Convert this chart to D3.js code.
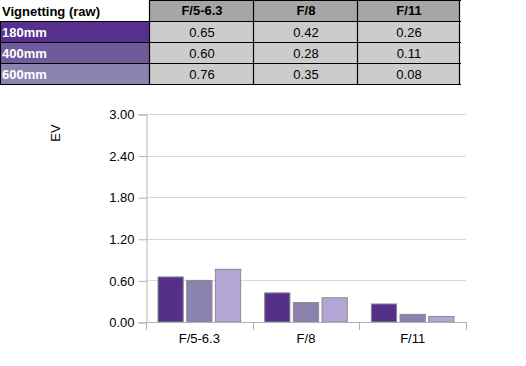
<!DOCTYPE html>
<html lang="en">
<head>
<meta charset="utf-8">
<title>Vignetting</title>
<script src="https://d3js.org/d3.v7.min.js"></script>
<style>
  body { margin: 0; background: #fff; }
  text { font-family: "Liberation Sans", Arial, sans-serif; }
</style>
</head>
<body>
<script>
// data
var apertures = ["F/5-6.3", "F/8", "F/11"];
var lenses = ["180mm", "400mm", "600mm"];
var v180 = [0.65, 0.42, 0.26];
var v400 = [0.60, 0.28, 0.11];
var v600 = [0.76, 0.35, 0.08];
var yTicks = [0, 0.6, 1.2, 1.8, 2.4, 3.0];
var tableTitle = "Vignetting (raw)";

var series = [v180, v400, v600];
var rowColors = ["#572f8c", "#6f5b9c", "#8d83b1"];
var barColors = ["#553089", "#8c82ae", "#b3a6d4"];

var w = 526, h = 366;
var svg = d3.select("body").append("svg")
  .attr("width", w)
  .attr("height", h);

// ---- table ----
var colX = [0, 150, 254, 358, 460];
var rowY = [0, 21, 42, 63, 84];
var tbl = svg.append("g");

// header
tbl.append("text")
  .attr("x", 2).attr("y", 16)
  .attr("font-size", 13).attr("font-weight", "bold")
  .attr("fill", "#000")
  .text(tableTitle);

apertures.forEach(function (a, j) {
  tbl.append("rect")
    .attr("x", colX[j + 1]).attr("y", rowY[0])
    .attr("width", colX[j + 2] - colX[j + 1]).attr("height", rowY[1] - rowY[0])
    .attr("fill", "#a6a6a6");
  tbl.append("text")
    .attr("x", (colX[j + 1] + colX[j + 2]) / 2).attr("y", 15)
    .attr("text-anchor", "middle")
    .attr("font-size", 13).attr("font-weight", "bold")
    .text(a);
});

lenses.forEach(function (l, i) {
  tbl.append("rect")
    .attr("x", colX[0]).attr("y", rowY[i + 1])
    .attr("width", colX[1] - colX[0]).attr("height", rowY[i + 2] - rowY[i + 1])
    .attr("fill", rowColors[i]);
  tbl.append("text")
    .attr("x", 2).attr("y", rowY[i + 1] + 16)
    .attr("font-size", 13).attr("font-weight", "bold")
    .attr("fill", "#fff")
    .text(l);
  apertures.forEach(function (a, j) {
    tbl.append("rect")
      .attr("x", colX[j + 1]).attr("y", rowY[i + 1])
      .attr("width", colX[j + 2] - colX[j + 1]).attr("height", rowY[i + 2] - rowY[i + 1])
      .attr("fill", "#cccccc");
    tbl.append("text")
      .attr("x", (colX[j + 1] + colX[j + 2]) / 2).attr("y", rowY[i + 1] + 16)
      .attr("text-anchor", "middle")
      .attr("font-size", 13)
      .text(series[i][j].toFixed(2));
  });
});

// grid lines of the table
rowY.slice(1).forEach(function (y) {
  tbl.append("line")
    .attr("x1", 0).attr("x2", colX[4] + 1)
    .attr("y1", y + 0.5).attr("y2", y + 0.5)
    .attr("stroke", "#000").attr("stroke-width", 1.2);
});
tbl.append("line")
  .attr("x1", colX[1]).attr("x2", colX[4] + 1)
  .attr("y1", 0.5).attr("y2", 0.5)
  .attr("stroke", "#000");
colX.slice(1).forEach(function (x) {
  tbl.append("line")
    .attr("x1", x - 0.5).attr("x2", x - 0.5)
    .attr("y1", 0).attr("y2", rowY[4] + 1)
    .attr("stroke", "#000").attr("stroke-width", 1.2);
});
tbl.append("line")
  .attr("x1", 0.5).attr("x2", 0.5)
  .attr("y1", rowY[1]).attr("y2", rowY[4] + 1)
  .attr("stroke", "#000");

// ---- chart ----
var plotLeft = 146, plotRight = 466, plotTop = 114, plotBottom = 322;

var x0 = d3.scaleBand()
  .domain(apertures)
  .range([plotLeft, plotRight]);

var x1 = d3.scaleBand()
  .domain(lenses)
  .range([12, x0.bandwidth() - 12])
  .paddingInner(0.12);

var yScale = d3.scaleLinear()
  .domain([0, 3])
  .range([plotBottom, plotTop]);

// gridlines
svg.append("g")
  .selectAll("line")
  .data(yTicks.slice(1))
  .enter()
  .append("line")
  .attr("x1", plotLeft).attr("x2", plotRight)
  .attr("y1", d => Math.round(yScale(d)) + 0.5)
  .attr("y2", d => Math.round(yScale(d)) + 0.5)
  .attr("stroke", "#d9d9d9");

// y axis
var yAxis = d3.axisLeft(yScale)
  .tickValues(yTicks)
  .tickFormat(d3.format(".2f"))
  .tickSize(8)
  .tickPadding(4);

var gy = svg.append("g")
  .attr("transform", "translate(" + (plotLeft + 0.5) + ",0.5)")
  .call(yAxis);
gy.select(".domain").attr("stroke", "#b3b3b3");
gy.selectAll(".tick line").attr("stroke", "#b3b3b3");
gy.selectAll(".tick text")
  .attr("font-size", 13)
  .attr("fill", "#000")
  .style("font-family", "'Liberation Sans', Arial, sans-serif");

// bars
var groups = svg.append("g")
  .selectAll("g")
  .data(apertures)
  .enter()
  .append("g")
  .attr("transform", d => "translate(" + x0(d) + ",0)");

groups.selectAll("rect")
  .data((d, j) => lenses.map((l, i) => ({ lens: l, value: series[i][j], i: i })))
  .enter()
  .append("rect")
  .attr("x", d => x1(d.lens))
  .attr("y", d => yScale(d.value))
  .attr("width", x1.bandwidth())
  .attr("height", d => plotBottom - yScale(d.value))
  .attr("fill", d => barColors[d.i])
  .attr("stroke", "#8c8c8c")
  .attr("stroke-width", 1);

// x axis
var xAxis = d3.axisBottom(x0)
  .tickSize(0)
  .tickPadding(11);

var gx = svg.append("g")
  .attr("transform", "translate(0," + (plotBottom + 0.5) + ")")
  .call(xAxis);
gx.select(".domain").attr("d", "M" + plotLeft + ",0H" + plotRight).attr("stroke", "#b3b3b3");
gx.selectAll(".tick text")
  .attr("font-size", 13)
  .attr("fill", "#000")
  .style("font-family", "'Liberation Sans', Arial, sans-serif");

// category separators
var seps = [plotLeft].concat(apertures.map(a => x0(a) + x0.bandwidth()));
svg.append("g")
  .selectAll("line")
  .data(seps)
  .enter()
  .append("line")
  .attr("x1", d => Math.round(d) + 0.5).attr("x2", d => Math.round(d) + 0.5)
  .attr("y1", plotBottom).attr("y2", plotBottom + 8)
  .attr("stroke", "#b3b3b3");

// y label
svg.append("text")
  .attr("transform", "translate(60,133) rotate(-90)")
  .attr("text-anchor", "middle")
  .attr("font-size", 13)
  .text("EV");
</script>
</body>
</html>
